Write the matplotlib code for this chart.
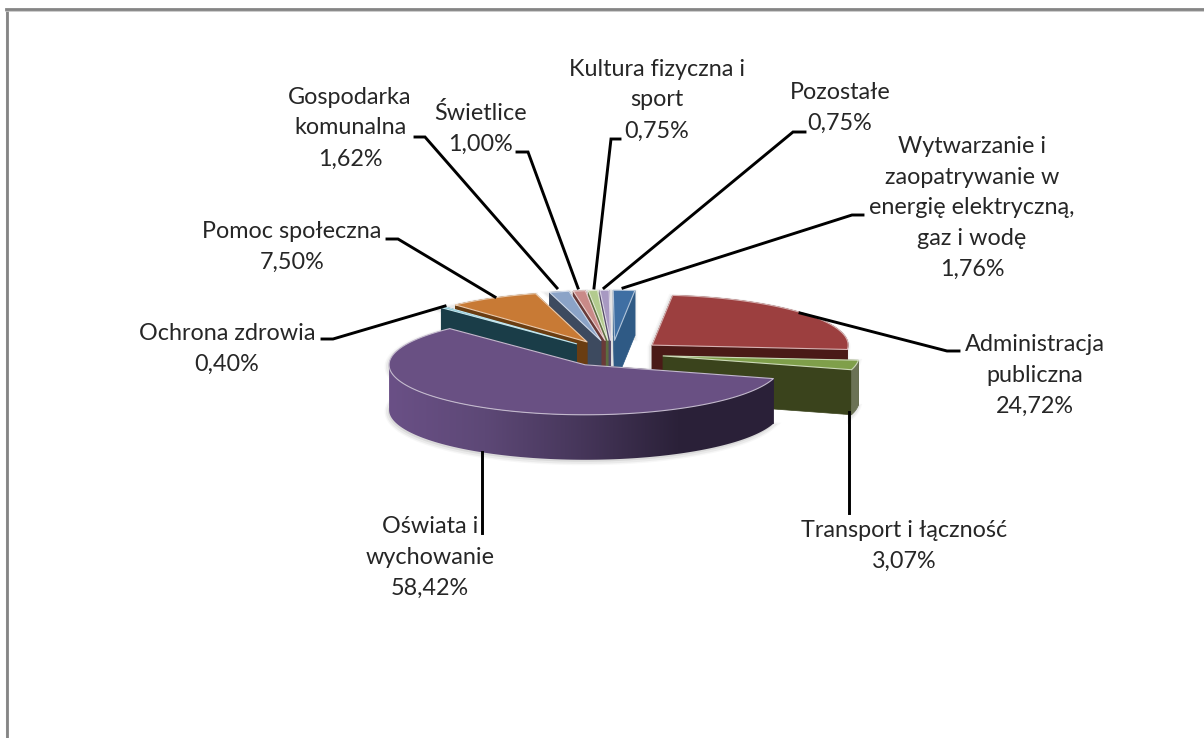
import matplotlib
matplotlib.use('Agg')
import matplotlib.pyplot as plt
import numpy as np
from matplotlib.colors import to_rgb, LinearSegmentedColormap
from matplotlib.patches import Polygon

# Dane
labels = ['Administracja\npubliczna', 'Transport i łączność', 'Oświata i\nwychowanie',
          'Ochrona zdrowia', 'Pomoc społeczna', 'Gospodarka\nkomunalna', 'Świetlice',
          'Kultura fizyczna i\nsport', 'Pozostałe',
          'Wytwarzanie i\nzaopatrywanie w\nenergię elektryczną,\ngaz i wodę']
values = [24.72, 3.07, 58.42, 0.40, 7.50, 1.62, 1.00, 0.75, 0.75, 1.76]
top_colors = ['#9c3f3f', '#7f9f4a', '#695083', '#6fbdd0', '#c87a35',
              '#8ba3c7', '#c98a88', '#b3cb8f', '#a899c2', '#3f6fa3']
wall_colors = ['#4a1a17', '#3a431c', '#2a2038', '#1a3d48', '#6a3d12',
               '#3d4a5f', '#6a3a38', '#5d6e40', '#54486a', '#2f5a85']

# polozenie opisow i linii odniesienia (piksele)
label_x = [1035, 904, 430, 227, 292, 350, 481, 657, 840, 972]
label_y = [375, 546, 557, 349, 247, 128, 128, 100, 108, 208]
leaders = [
    [(800, 313), (947, 351), (959, 351)],
    [(849, 412), (849, 513)],
    [(482, 452), (482, 533)],
    [(445, 306), (333, 339), (322, 339)],
    [(495, 297), (398, 239), (387, 239)],
    [(557, 288), (425, 137), (415, 137)],
    [(578, 288), (528, 152), (517, 152)],
    [(594, 288), (611, 139), (620, 139)],
    [(604, 288), (793, 132), (805, 132)],
    [(623, 288), (852, 215), (863, 215)],
]

plt.rcParams['font.family'] = ['Lato', 'DejaVu Sans']

# Geometria wykresu 3D
cx, cy = 612, 353.5
a, b = 196, 50
ex, ey = 52, 13.2
depth = 45
start = 6.0

fig = plt.figure(figsize=(12.04, 7.38), dpi=100)
ax = fig.add_axes([0, 0, 1, 1])
ax.axis('off')

# ramka
ax.plot([7, 7], [738, 9], color='#c4c4c4', lw=1.5, zorder=1, solid_capstyle='butt')
ax.plot([6.5, 6.5], [738, 8.5], color='#858585', lw=2, zorder=1, solid_capstyle='butt')
ax.plot([6, 1204], [10.5, 10.5], color='#c4c4c4', lw=1.2, zorder=1)
ax.plot([6, 1204], [8.8, 8.8], color='#858585', lw=2, zorder=1)


def lighten(c, f):
    r = np.array(to_rgb(c))
    return tuple(r + (1 - r) * f)


def pt(x0, y0, th):
    return x0 + a * np.sin(np.radians(th)), y0 - b * np.cos(np.radians(th))


edges = start + np.concatenate([[0], np.cumsum(values)]) * 3.6
slices = []
for i in range(len(values)):
    t0, t1 = edges[i], edges[i + 1]
    mid = np.radians((t0 + t1) / 2)
    slices.append((cy - ey * np.cos(mid), cx + ex * np.sin(mid), t0, t1, i))

# cien
for y0, x0, t0, t1, i in slices:
    th = np.linspace(t0, t1, 80)
    xs, ys = pt(x0, y0, th)
    px = np.r_[x0, xs, xs[::-1], x0]
    py = np.r_[y0, ys, ys[::-1] + depth, y0 + depth]
    for w, al in [(5, 0.06), (3, 0.10)]:
        ax.fill(px - 1, py + 2, color='#808080', alpha=al, lw=w, zorder=2)

grad = LinearSegmentedColormap.from_list('fiolet', ['#6a5086', '#5d4876', '#46365a', '#2b2139', '#2a2038'])

# od tylu do przodu
z = 3
for y0, x0, t0, t1, i in sorted(slices):
    th = np.linspace(t0, t1, 160)
    xs, ys = pt(x0, y0, th)
    wall = wall_colors[i]
    # sciany promieniowe
    for t in (t0, t1):
        ox, oy = pt(x0, y0, t)
        ax.fill([x0, ox, ox, x0], [y0, oy, oy + depth, y0 + depth], color=wall, lw=0.5, zorder=z)
    # sciana zewnetrzna
    if i == 2:
        # gradient na duzym wycinku
        vis = np.linspace(t0, 270, 170)
        sx, sy = pt(x0, y0, vis)
        poly = Polygon(np.c_[np.r_[sx, sx[::-1]], np.r_[sy, sy[::-1] + depth]],
                       closed=True, transform=ax.transData, facecolor='none', edgecolor='none')
        ax.add_patch(poly)
        im = ax.imshow(np.linspace(0, 1, 256).reshape(1, -1), cmap=grad, aspect='auto',
                       extent=[sx.min(), sx.max(), sy.max() + depth, sy.min()], zorder=z)
        im.set_clip_path(poly)
    else:
        ow = lighten(wall, 0.25) if i == 1 else wall
        ax.fill(np.r_[xs, xs[::-1]], np.r_[ys, ys[::-1] + depth], color=ow, lw=0.5, zorder=z)
    # gorna powierzchnia
    ax.fill(np.r_[x0, xs], np.r_[y0, ys], facecolor=top_colors[i],
            edgecolor=lighten(top_colors[i], 0.6), lw=0.8, zorder=z, joinstyle='round')
    z += 1

# linie odniesienia
for pts in leaders:
    p = np.array(pts)
    ax.plot(p[:, 0], p[:, 1], color='black', lw=2.1, zorder=50, solid_joinstyle='miter')

# opisy
for i in range(len(values)):
    txt = f'{labels[i]}\n{values[i]:.2f}%'.replace('.', ',')
    ax.text(label_x[i], label_y[i], txt, ha='center', va='center', fontsize=16.8,
            color='#262626', linespacing=1.58, zorder=60)

ax.set_xlim(0, 1204)
ax.set_ylim(738, 0)
fig.savefig('out.png', dpi=100, facecolor='white')
